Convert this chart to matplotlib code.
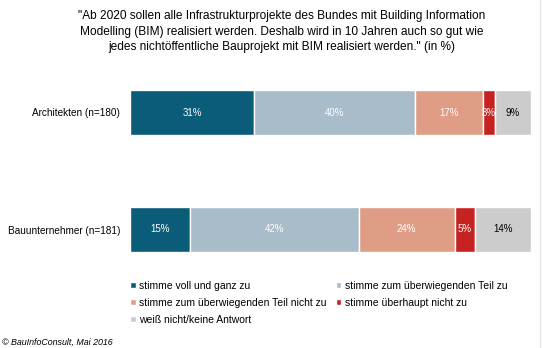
import matplotlib
matplotlib.use("Agg")
import matplotlib.pyplot as plt
import numpy as np

plt.rcParams['font.family'] = ['Liberation Sans', 'DejaVu Sans']

groups = ["Architekten (n=180)", "Bauunternehmer (n=181)"]
answers = ["stimme voll und ganz zu",
           "stimme zum überwiegenden Teil zu",
           "stimme zum überwiegenden Teil nicht zu",
           "stimme überhaupt nicht zu",
           "weiß nicht/keine Antwort"]
values = [[31, 15],
          [40, 42],
          [17, 24],
          [3, 5],
          [9, 14]]
colors = ["#0B5C79", "#A8BCCA", "#E09D86", "#C62222", "#CCCCCC"]
text_colors = ["white", "white", "white", "white", "black"]

title = ('"Ab 2020 sollen alle Infrastrukturprojekte des Bundes mit Building Information\n'
         'Modelling (BIM) realisiert werden. Deshalb wird in 10 Jahren auch so gut wie\n'
         'jedes nichtöffentliche Bauprojekt mit BIM realisiert werden." (in %)')
source = "© BauInfoConsult, Mai 2016"

W, H = 542, 348
fig = plt.figure(figsize=(W / 100, H / 100), dpi=100)

# axes in pixel coordinates
ax_l, ax_r, ax_t, ax_b = 130, 531, 90, 252
ax = fig.add_axes([ax_l / W, 1 - ax_b / H, (ax_r - ax_l) / W, (ax_b - ax_t) / H])

y = np.arange(len(groups))
bar_h = 45 / 117
left = np.zeros(len(groups))
handles = []
for vals, c, tc, lab in zip(values, colors, text_colors, answers):
    vals = np.array(vals, dtype=float)
    bars = ax.barh(y, vals, left=left, height=bar_h, color=c,
                   edgecolor="white", linewidth=1, label=lab)
    handles.append(bars)
    for xi, yi, v in zip(left, y, vals):
        ax.text(xi + v / 2, yi, f"{int(v)}%", ha="center", va="center",
                color=tc, fontsize=7)
    left += vals

ax.set_xlim(0, 100)
ax.set_ylim(1 + 22.5 / 117, -22.5 / 117)
ax.set_yticks(y)
ax.set_yticklabels(groups, fontsize=7.2)
ax.tick_params(axis="y", length=0, pad=7)
ax.set_xticks([])
for s in ax.spines.values():
    s.set_visible(False)

fig.text(282 / W, 1 - 10 / H, title, ha="center", va="top", fontsize=8.6,
         linespacing=1.4)

order = [0, 2, 4, 1, 3]
fig.legend([handles[i] for i in order], [answers[i] for i in order],
           loc="upper left", bbox_to_anchor=(130 / W, 1 - 281 / H), ncol=2,
           frameon=False, fontsize=7.5, handlelength=0.55, handleheight=0.55,
           handletextpad=0.35, columnspacing=0.85, labelspacing=0.65,
           borderpad=0, borderaxespad=0)

fig.text(2 / W, 1 - 342 / H, source, ha="left", va="center", fontsize=6.4,
         style="italic")

fig.add_artist(plt.Line2D([540 / W, 540 / W], [0, 1], color="#E6E6E6",
                          linewidth=1, transform=fig.transFigure))

fig.savefig("out.png", dpi=100)
